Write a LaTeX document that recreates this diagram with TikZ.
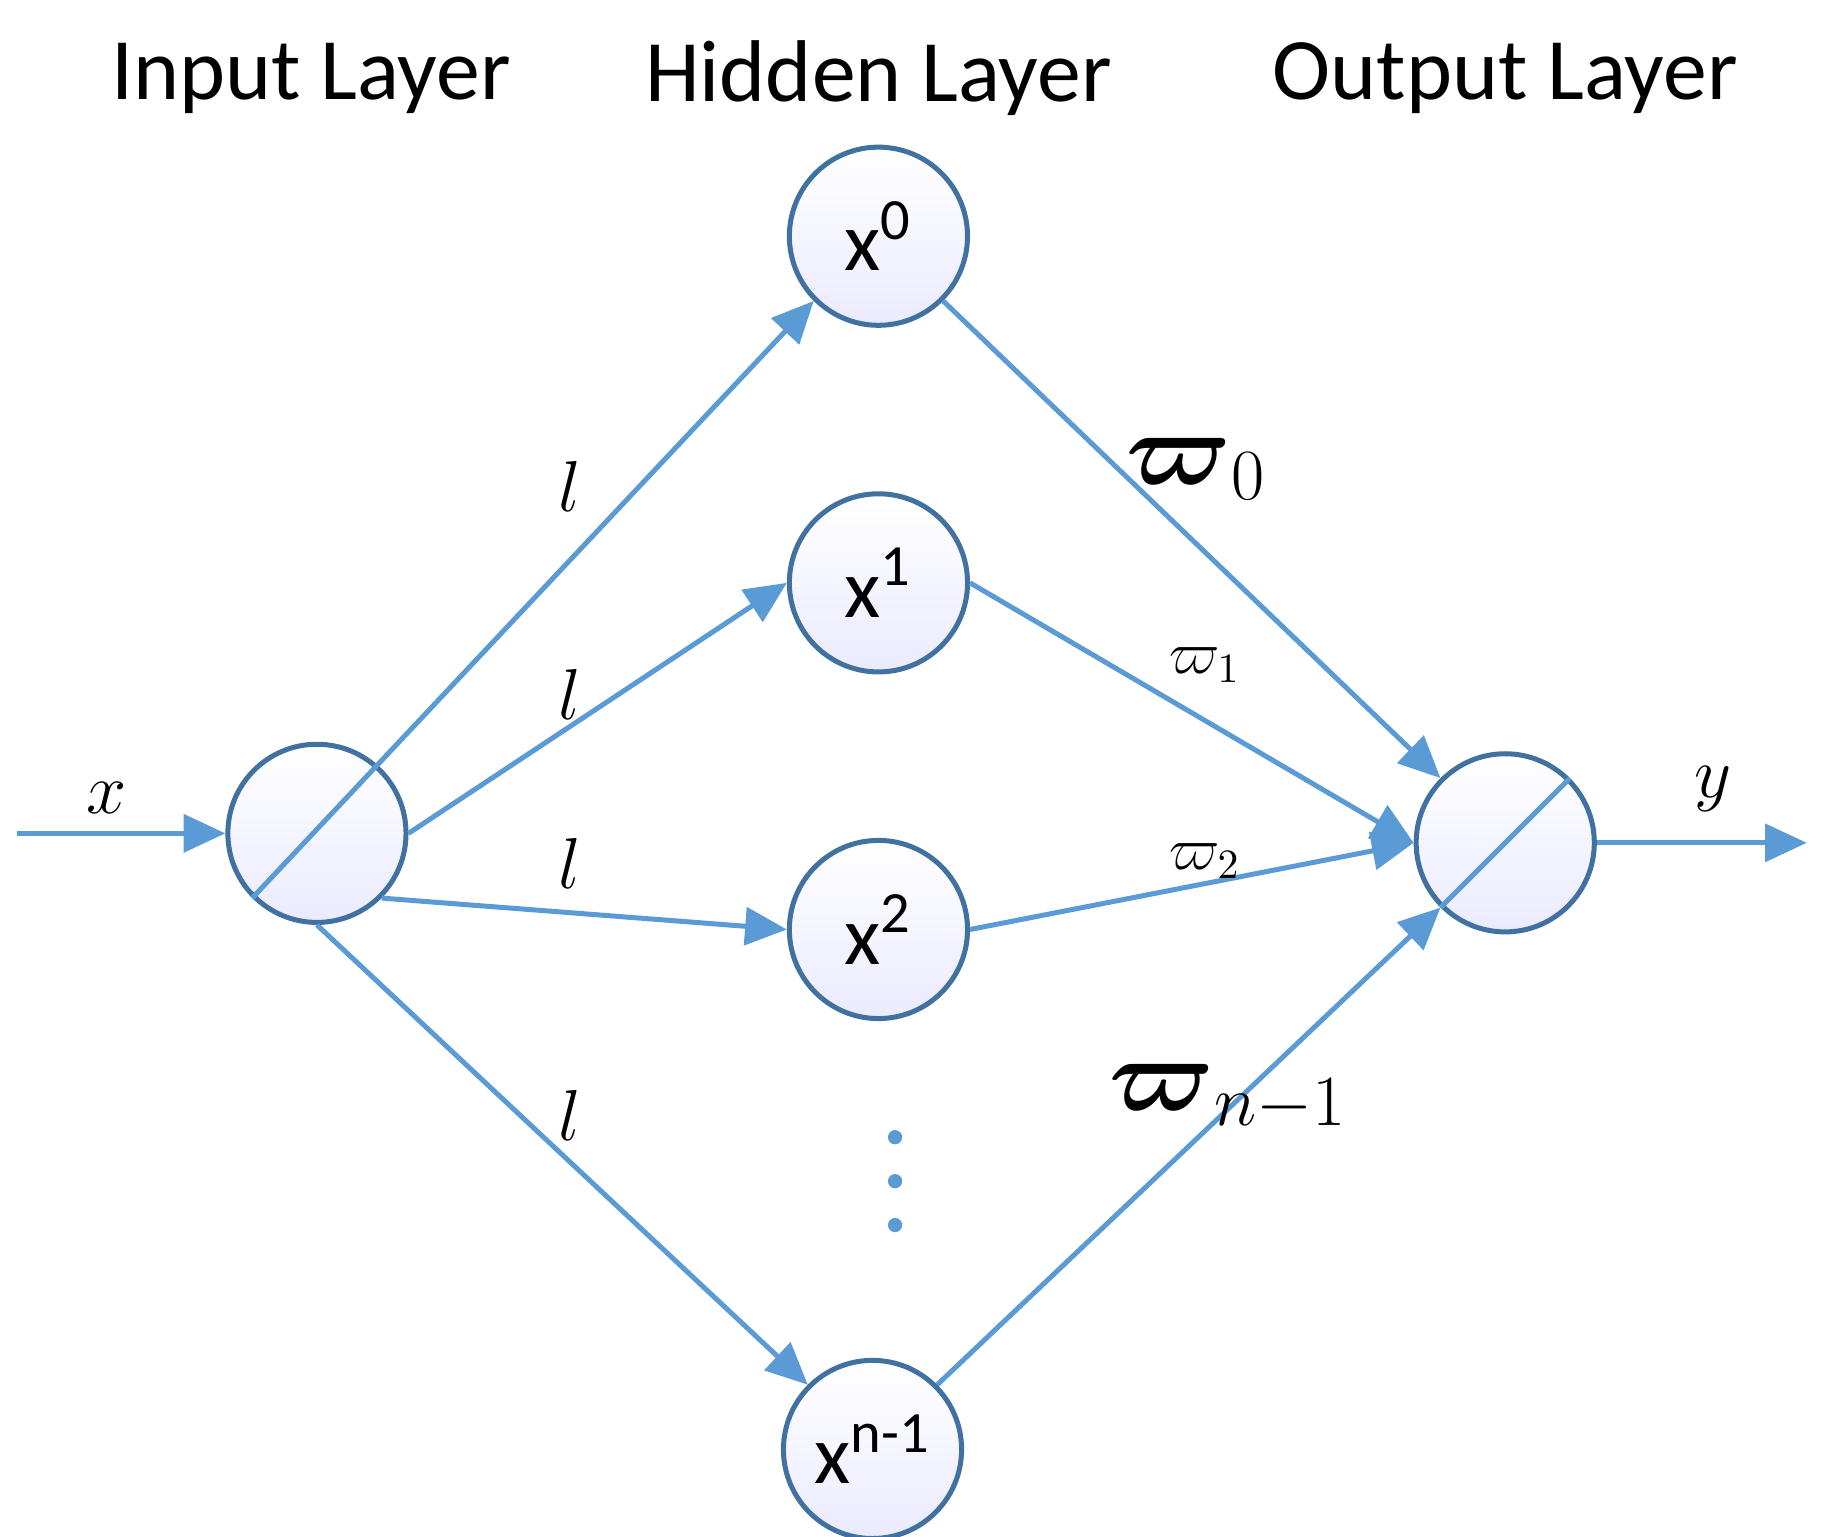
\documentclass[tikz,border=0pt]{standalone}
\usepackage{fontspec}
\setmainfont{Carlito}
\usepackage{amsmath}
\usetikzlibrary{arrows.meta}
\definecolor{linkblue}{RGB}{91,155,213}
\definecolor{rimblue}{RGB}{65,113,160}
\begin{document}
\begin{tikzpicture}[
            x=0.01cm, y=-0.01cm,
            neuron/.style = {circle, draw=rimblue, line width=1.2pt, minimum size=1.5cm, inner sep=0pt, top color=white, bottom color=blue!8, font=\fontsize{20}{24}\selectfont},
            link/.style = {draw=linkblue, line width=1.2pt, -{Triangle[length=10pt,width=9pt]}},
            title/.style = {font=\fontsize{21}{25}\selectfont},
            wlabel/.style = {font=\fontsize{19}{23}\selectfont}
        ]
        \useasboundingbox (0,0) rectangle (1550,1294);

        \node[title] (tin) at (262,66) {Input Layer};
        \node[title] (thid) at (740,66) {Hidden Layer};
        \node[title] (tout) at (1268,66) {Output Layer};

        \node[neuron] (inp) at (267,702) {};
        \node[neuron] (x0) at (740,199) {x$^{\text{0}}$};
        \node[neuron] (x1) at (740,491) {x$^{\text{1}}$};
        \node[neuron] (x2) at (740,783) {x$^{\text{2}}$};
        \node[neuron] (xn) at (735,1221) {x$^{\text{n-1}}$};
        \node[neuron] (outp) at (1268,710) {};

        \foreach \y in {958,995,1032}
            \fill[linkblue] (754,\y) circle (6);

        \coordinate (src) at (14,702);
        \coordinate (dst) at (1522,710);

        \draw[link] (src) -- (inp.west);
        \draw[link] (outp.east) -- (dst);
        \draw[link] (inp.225) -- (x0.225);
        \draw[link] (inp.east) -- (x1.west);
        \draw[link] (inp.-45) -- (x2.west);
        \draw[link] (inp.south) -- (xn.135);
        \draw[link] (x0.-45) -- (outp.135);
        \draw[link] (x1.east) -- (outp.west);
        \draw[link] (x2.east) -- (outp.west);
        \draw[link] (xn.45) -- (outp.225);
        \draw[draw=linkblue, line width=1.2pt] (outp.225) -- (outp.45);

        \node[wlabel] (lx) at (90,672) {$x$};
        \node[wlabel] (ly) at (1443,665) {$y$};
        \foreach \y/\n in {410/a,585/b,727/c,940/d}
            \node[wlabel] (l\n) at (480,\y) {$l$};
        \node[font=\fontsize{24}{28}\selectfont] (w0) at (1008,395) {$\boldsymbol{\varpi}_0$};
        \node[font=\fontsize{14}{18}\selectfont] (w1) at (1015,560) {$\varpi_1$};
        \node[font=\fontsize{14}{18}\selectfont] (w2) at (1015,725) {$\varpi_2$};
        \node[font=\fontsize{24}{28}\selectfont] (wn) at (1035,925) {$\boldsymbol{\varpi}_{n-1}$};
    \end{tikzpicture}
\end{document}
